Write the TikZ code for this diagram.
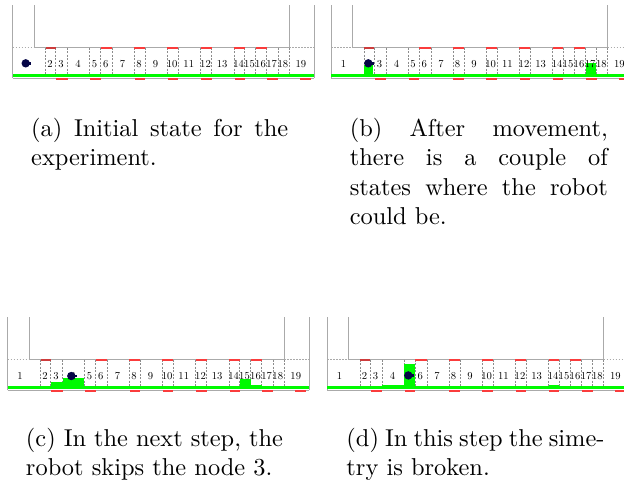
\documentclass[tikz,border=0pt]{standalone}
\newdimen\pxu \pxu=0.4098pt
\definecolor{wallgray}{RGB}{170,170,170}
\definecolor{cellgray}{RGB}{140,140,140}
\definecolor{probgreen}{RGB}{0,250,0}
\definecolor{markred}{RGB}{250,60,60}
\definecolor{markdark}{RGB}{205,60,60}
\definecolor{robotblue}{RGB}{5,5,70}
\tikzset{
  wall/.style={draw=wallgray, line width=0.9\pxu},
  walldot/.style={draw=wallgray, line width=0.9\pxu, dash pattern=on 1.5\pxu off 1.5\pxu},
  celldash/.style={draw=cellgray, line width=0.55\pxu, dash pattern=on 2\pxu off 1.5\pxu},
  redmark/.style={fill=markred},
  celllabel/.style={inner sep=0pt, scale=0.435, font=\fontsize{10}{12}\selectfont},
  captext/.style={anchor=base west, inner sep=0pt, font=\fontsize{10}{12}\selectfont},
  robotnode/.style={circle, fill=robotblue, inner sep=0pt, minimum size=8.4\pxu},
  probbar/.style={fill=probgreen}
}
\def\B{{12.7,45.7,55.7,67.7,89.7,100.7,112.3,134.3,145.3,167.3,178.3,200.7,211.7,234,244.7,255.7,266.7,278,289,314}}
% #1 prefix, #2 shift, #3 bars, #4 robot x, #5 robot y
\newcommand\drawpanel[5]{%
\begin{scope}[shift={#2}]
  \draw[wall] (12.7,5) -- (12.7,78);
  \draw[wall] (34.3,5) -- (34.3,47.7) -- (289,47.7) -- (289,5);
  \draw[wall] (314,5) -- (314,78);
  \draw[walldot] (12.7,47.7) -- (34.3,47.7);
  \draw[walldot] (289,47.7) -- (314,47.7);
  \foreach \i in {2,...,19} {
    \pgfmathsetmacro\xx{\B[\i-1]}
    \draw[celldash] (\xx,47.7) -- (\xx,77);
  }
  \draw[wall] (12.7,78) -- (314,78);
  \fill[probgreen] (12.7,74) rectangle (313.5,77);
  #3
  \fill[markdark] (45.7,46.7) rectangle (55.7,48.7);
  \foreach \i in {6,8,10,12,14,16} {
    \pgfmathsetmacro\xa{\B[\i-1]}
    \pgfmathsetmacro\xb{\B[\i]}
    \fill[redmark] (\xa,46.7) rectangle (\xb,48.7);
  }
  \foreach \i in {3,5,8,10,12,14,17} {
    \pgfmathsetmacro\xa{\B[\i-1]+0.5}
    \pgfmathsetmacro\xb{\B[\i]}
    \fill[redmark] (\xa,77.6) rectangle (\xb,79.6);
  }
  \fill[redmark] (300,77.6) rectangle (311.3,79.6);
  \foreach \i in {1,...,19} {
    \pgfmathsetmacro\xa{\B[\i-1]}
    \pgfmathsetmacro\xb{\B[\i]}
    \pgfmathsetmacro\xl{\xa/2+\xb/2-0.7}
    \ifnum\i=1 \def\xl{25}\fi
    \node[celllabel] (#1-\i) at (\xl,64.3) {\i};
  }
  \node[robotnode] (#1-robot) at (#4,#5) {};
  \fill[robotblue] (#4+2.5,#5-1.3) rectangle (#4+5.6,#5+1.3);
\end{scope}}

\begin{document}
\begin{tikzpicture}[x=0.4098pt,y=-0.4098pt]
\useasboundingbox (0,0) rectangle (624,483);
\clip (0,0) rectangle (624,483);

\drawpanel{pa}{(0,0)}{}{25.7}{63.3}
\drawpanel{pb}{(318.5,0)}{%
  \fill[probbar] (45.2,65) rectangle (54.8,77);
  \fill[probbar] (267.5,63.3) rectangle (277.8,77);}{49.8}{63.3}
\drawpanel{pc}{(-5,312)}{%
  \fill[probbar] (55.5,70.3) rectangle (67.5,77);
  \fill[probbar] (67.5,65.7) rectangle (89.3,77);
  \fill[probbar] (244.7,67) rectangle (255.7,77);
  \fill[probbar] (255.7,72.7) rectangle (266.7,77);}{76.3}{64}
\drawpanel{pd}{(314.5,312)}{%
  \fill[probbar] (67.7,73) rectangle (89.7,77);
  \fill[probbar] (89.8,52.3) rectangle (100.2,77);
  \fill[probbar] (234.2,73) rectangle (244.5,77);}{93.8}{63.4}

% captions
\node[captext] (ca1) at (30.7,136.5) {\makebox[257\pxu][s]{(a) Initial state for the}};
\node[captext] (ca2) at (30.7,165.8) {experiment.};
\node[captext] (cb1) at (349.3,136.5) {\makebox[258\pxu][s]{(b) After movement,}};
\node[captext] (cb2) at (349.3,165.8) {\makebox[258\pxu][s]{there is a couple of}};
\node[captext] (cb3) at (349.3,195.1) {\makebox[258\pxu][s]{states where the robot}};
\node[captext] (cb4) at (349.3,224.4) {could be.};
\node[captext] (cc1) at (25.5,446) {\makebox[257\pxu][s]{(c) In the next step, the}};
\node[captext] (cc2) at (25.5,475.3) {robot skips the node 3.};
\node[captext] (cd1) at (346,446) {\makebox[258\pxu][s]{(d) In this step the sime-}};
\node[captext] (cd2) at (346,475.3) {try is broken.};
\end{tikzpicture}
\end{document}
